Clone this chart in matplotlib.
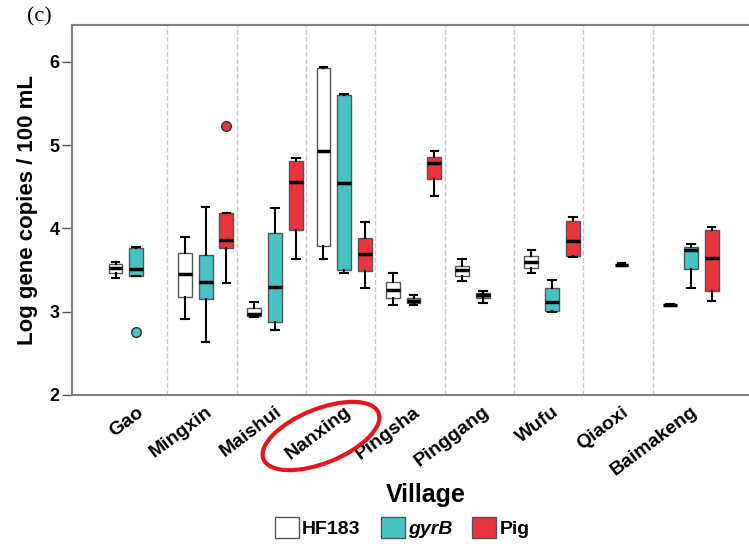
import matplotlib
matplotlib.use("Agg")
import matplotlib.pyplot as plt
from matplotlib.patches import Patch, Ellipse
from matplotlib.transforms import IdentityTransform

plt.rcParams['font.family'] = ['Liberation Sans', 'DejaVu Sans']

villages = ['Gao', 'Mingxin', 'Maishui', 'Nanxing', 'Pingsha',
            'Pinggang', 'Wufu', 'Qiaoxi', 'Baimakeng']

# box stats per village: [whislo, q1, median, q3, whishi], None = no samples
hf183 = [[3.40, 3.47, 3.53, 3.57, 3.60],
         [2.91, 3.18, 3.45, 3.71, 3.90],
         [2.94, 2.95, 2.97, 3.04, 3.12],
         [3.63, 3.79, 4.93, 5.92, 5.94],
         [3.08, 3.17, 3.26, 3.36, 3.47],
         [3.37, 3.43, 3.50, 3.55, 3.63],
         [3.46, 3.53, 3.60, 3.67, 3.74],
         None,
         [3.07, 3.075, 3.08, 3.085, 3.09]]
gyrb = [[3.43, 3.43, 3.51, 3.77, 3.78],
        [2.64, 3.15, 3.36, 3.68, 4.26],
        [2.78, 2.88, 3.30, 3.94, 4.24],
        [3.47, 3.50, 4.55, 5.60, 5.61],
        [3.08, 3.10, 3.13, 3.16, 3.20],
        [3.11, 3.16, 3.20, 3.23, 3.25],
        [3.00, 3.01, 3.12, 3.29, 3.38],
        [3.55, 3.555, 3.56, 3.565, 3.58],
        [3.28, 3.51, 3.74, 3.78, 3.81]]
pig = [None,
       [3.34, 3.76, 3.86, 4.18, 4.18],
       [3.63, 3.98, 4.56, 4.81, 4.84],
       [3.29, 3.49, 3.69, 3.88, 4.08],
       [4.39, 4.59, 4.78, 4.86, 4.93],
       None,
       [3.66, 3.67, 3.85, 4.09, 4.14],
       None,
       [3.13, 3.25, 3.65, 3.98, 4.02]]

# outliers (village index, value)
gyrb_fliers = [(0, 2.76)]
pig_fliers = [(1, 5.23)]

series = [('HF183', hf183, [], 'white', -0.3),
          ('gyrB', gyrb, gyrb_fliers, '#47C3C6', 0.0),
          ('Pig', pig, pig_fliers, '#EA333D', 0.3)]

fig = plt.figure(figsize=(7.49, 5.44), dpi=100)
ax = fig.add_axes([0.0961, 0.2739, 0.9039, 0.6801])

for name, stats, fliers, color, off in series:
    bstats, pos = [], []
    for i, s in enumerate(stats):
        if s is None:
            continue
        fl = [v for j, v in fliers if j == i]
        bstats.append(dict(whislo=s[0], q1=s[1], med=s[2], q3=s[3],
                           whishi=s[4], fliers=fl))
        pos.append(i + off)
    ax.bxp(bstats, positions=pos, widths=0.2, capwidths=0.11,
           patch_artist=True, showfliers=True,
           boxprops=dict(facecolor=color, edgecolor='#555555', linewidth=1),
           medianprops=dict(color='black', linewidth=2.5),
           whiskerprops=dict(color='black', linewidth=1.5),
           capprops=dict(color='black', linewidth=1.5),
           flierprops=dict(marker='o', markerfacecolor=color,
                           markeredgecolor='#333333', markersize=7))

# dashed separators between villages
for i in range(len(villages) - 1):
    ax.axvline(i + 0.45, color='#c8c8c8', linestyle='--', linewidth=1, zorder=0)

ax.set_xlim(-0.928, 8.84)
ax.set_ylim(2, 6.44)
ax.set_yticks([2, 3, 4, 5, 6])
ax.set_yticklabels(['2', '3', '4', '5', '6'], fontsize=13, fontweight='bold')
ax.set_xticks(range(len(villages)))
ax.set_xticklabels(villages, rotation=37, ha='right', va='top', rotation_mode='anchor',
                   fontsize=14, fontweight='bold')
ax.tick_params(axis='x', length=0, pad=6)
ax.tick_params(axis='y', length=7, width=1, color='#555555', pad=2)

for side in ['left', 'bottom', 'top']:
    ax.spines[side].set_color('#808080')
    ax.spines[side].set_linewidth(1.5)
ax.spines['right'].set_visible(False)

ax.set_ylabel('Log gene copies / 100 mL', fontsize=16, fontweight='bold', labelpad=8)
fig.text(0.569, 0.090, 'Village', fontsize=18, fontweight='bold', ha='center', va='center')
fig.text(0.036, 0.969, '(c)', fontsize=16, family='Liberation Serif', ha='left', va='center')

handles = [Patch(facecolor='white', edgecolor='#555555', label='HF183'),
           Patch(facecolor='#47C3C6', edgecolor='#555555', label='gyrB'),
           Patch(facecolor='#EA333D', edgecolor='#555555', label='Pig')]
leg = fig.legend(handles=handles, loc='center', bbox_to_anchor=(0.537, 0.030),
                 ncol=3, frameon=False, handlelength=1.23, handleheight=1.23,
                 handletextpad=0.15, columnspacing=1.05,
                 prop=dict(size=14, weight='bold'))
leg.get_texts()[1].set_fontstyle('italic')

# red ring around the Nanxing label
fig.add_artist(Ellipse((321, 544 - 436), 124, 54, angle=22, fill=False,
                       edgecolor='#E8141C', linewidth=3, transform=IdentityTransform()))

fig.savefig('out.png', dpi=100)
